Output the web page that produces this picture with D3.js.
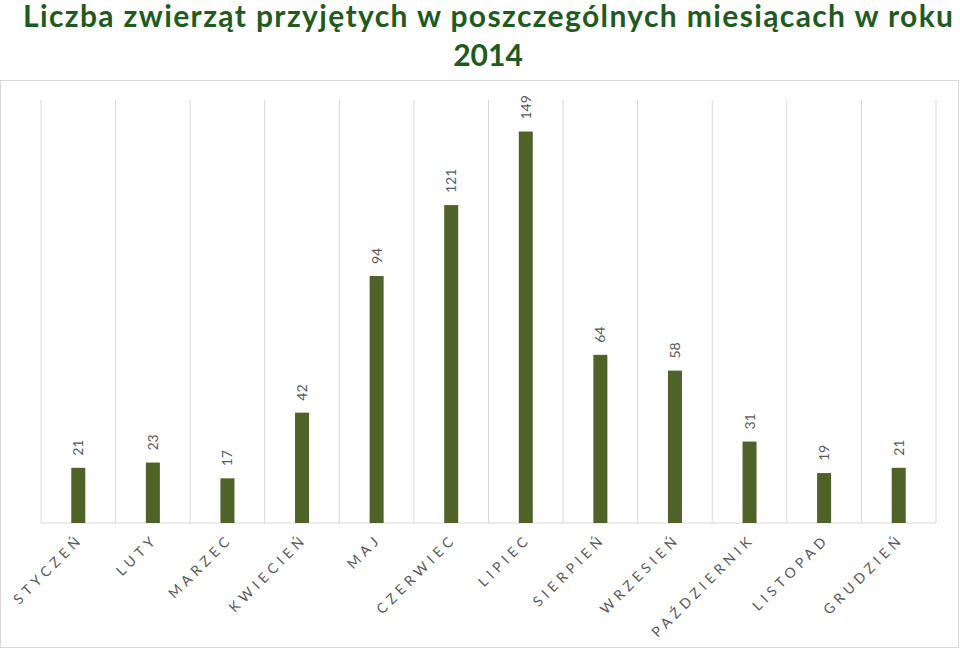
<!DOCTYPE html>
<html><head><meta charset="utf-8">
<script src="https://cdn.jsdelivr.net/npm/d3@7"></script>
<style>body{margin:0;background:#fff}</style>
</head><body>
<svg id="chart" width="960" height="649"></svg>
<script>
const months = ['STYCZEŃ','LUTY','MARZEC','KWIECIEŃ','MAJ','CZERWIEC','LIPIEC','SIERPIEŃ','WRZESIEŃ','PAŹDZIERNIK','LISTOPAD','GRUDZIEŃ'];
const counts = [21, 23, 17, 42, 94, 121, 149, 64, 58, 31, 19, 21];

const svg = d3.select('#chart');
const font = 'Lato, "Open Sans", sans-serif';

svg.append('rect').attr('x', 0.5).attr('y', 80.5).attr('width', 958).attr('height', 567)
  .attr('fill', 'none').attr('stroke', '#d9d9d9');

const title = svg.append('text').attr('text-anchor', 'middle').attr('fill', '#1f5a1f')
  .attr('font-family', font).attr('font-weight', 'bold').attr('font-size', 30);
title.append('tspan').attr('x', 488).attr('y', 27).attr('textLength', 930).text('Liczba zwierząt przyjętych w poszczególnych miesiącach w roku');
title.append('tspan').attr('x', 488).attr('y', 66).text('2014');

const x = d3.scaleBand().domain(months).range([41, 936]);
const y = d3.scaleLinear().domain([0, 161]).range([523, 100]);

// vertical gridlines at band edges
const edges = months.map(m => x(m)).concat([x.range()[1]]);
svg.append('g').selectAll('line').data(edges).join('line')
  .attr('x1', d => d).attr('x2', d => d).attr('y1', y(161)).attr('y2', y(0))
  .attr('stroke', '#d9d9d9');
svg.append('line').attr('x1', 41).attr('x2', 936).attr('y1', y(0)).attr('y2', y(0)).attr('stroke', '#d9d9d9');

const bw = 14;
svg.append('g').selectAll('rect').data(counts).join('rect')
  .attr('x', (d, i) => x(months[i]) + x.bandwidth() / 2 - bw / 2)
  .attr('y', d => y(d)).attr('width', bw).attr('height', d => y(0) - y(d))
  .attr('fill', '#4f6228');

svg.append('g').selectAll('text').data(counts).join('text')
  .attr('transform', (d, i) => `translate(${x(months[i]) + x.bandwidth() / 2 + 5},${y(d) - 12}) rotate(-90)`)
  .attr('font-family', font).attr('font-size', 14).attr('fill', '#595959')
  .text(d => d);

svg.append('g').selectAll('text').data(months).join('text')
  .attr('transform', m => `translate(${x(m) + x.bandwidth() / 2 + 6},${540}) rotate(-45)`)
  .attr('text-anchor', 'end')
  .attr('font-family', font).attr('font-size', 14).attr('letter-spacing', 4.5).attr('fill', '#595959')
  .text(m => m);
</script>
</body></html>
